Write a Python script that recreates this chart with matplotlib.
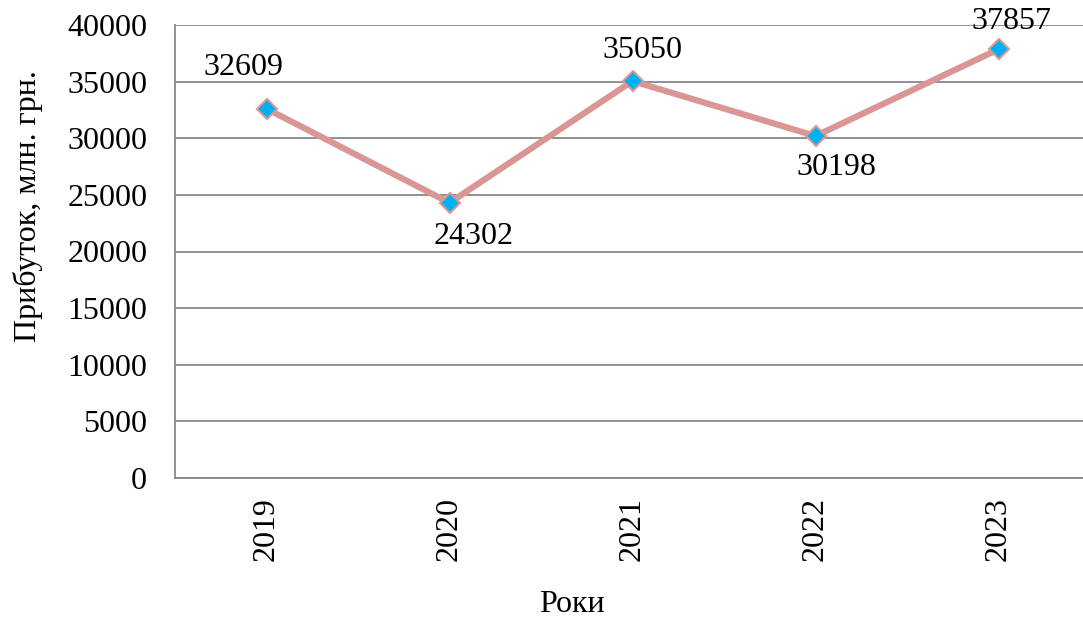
import matplotlib
matplotlib.use("Agg")
import matplotlib.pyplot as plt

years = ["2019", "2020", "2021", "2022", "2023"]
profit = [32609, 24302, 35050, 30198, 37857]
label_offsets = [(-23, 41), (24, -34), (10, 31), (21, -31), (13, 28)]
yticks = [0, 5000, 10000, 15000, 20000, 25000, 30000, 35000, 40000]

plt.rcParams["font.family"] = ["Liberation Serif", "DejaVu Serif"]
FS = 23

W, H = 1083, 620
fig = plt.figure(figsize=(W / 100, H / 100), dpi=100)
# plot area in pixel terms: left 175, right 1090, top 25, bottom 478
left, right, top, bottom = 175, 1090, 25, 478
ax = fig.add_axes([left / W, 1 - bottom / H, (right - left) / W, (bottom - top) / H])

x = list(range(len(years)))
ax.plot(x, profit, color="#D99694", lw=4.5, marker="D", ms=10,
        markerfacecolor="#00B0F0", markeredgecolor="#D99694", markeredgewidth=1.5,
        zorder=3, clip_on=False)

for xi, v, off in zip(x, profit, label_offsets):
    ax.annotate(f"{v}", (xi, v), xytext=off, textcoords="offset pixels",
                ha="center", va="center", fontsize=FS)

ax.set_xlim(-0.5, len(years) - 0.5)
ax.set_ylim(0, 40000)
ax.set_yticks(yticks)
ax.set_yticklabels([str(t) for t in yticks])
ax.set_xticks(x)
ax.set_xticklabels(years, rotation=90)
ax.tick_params(axis="both", length=0, labelsize=FS, colors="black")
ax.tick_params(axis="y", pad=20)
ax.tick_params(axis="x", pad=14)
ax.grid(axis="y", color="#888888", lw=1.3)
ax.set_axisbelow(True)
for s in ["top", "right"]:
    ax.spines[s].set_visible(False)
for s in ["left", "bottom"]:
    ax.spines[s].set_color("#888888")
    ax.spines[s].set_linewidth(1.3)

fig.text(28 / W, 1 - 206 / H, "Прибуток, млн. грн.", rotation=90, ha="center", va="center", fontsize=FS)
fig.text(572 / W, 1 - 605 / H, "Роки", ha="center", va="center", fontsize=FS)

fig.savefig("out.png", dpi=100)
